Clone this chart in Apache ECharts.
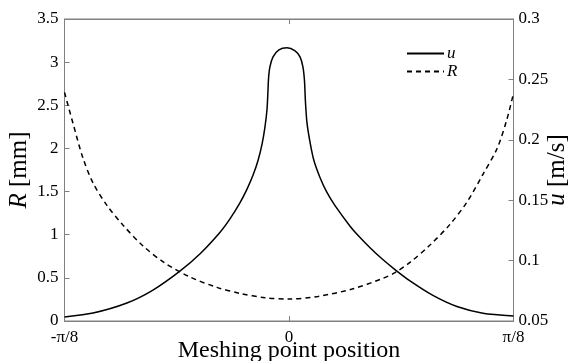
<!DOCTYPE html>
<html>
<head>
<meta charset="utf-8">
<script src="https://cdn.jsdelivr.net/npm/echarts@6/dist/echarts.min.js"></script>
<style>
  html, body { margin: 0; padding: 0; background: #fff; }
  #chart { width: 568px; height: 361px; }
</style>
</head>
<body>
<div id="chart"></div>
<script>
  // x in units of pi/8 (-1 = -π/8, 1 = π/8)
  var xTickLabels = ['-π/8', '0', 'π/8']

  // R [mm], dashed, left axis
  var rX = [-1, -0.962, -0.918, -0.873, -0.811, -0.739, -0.65, -0.552, -0.441, -0.321, -0.218, -0.107, 0,
    0.129, 0.281, 0.414, 0.472, 0.539, 0.628, 0.717, 0.793, 0.864, 0.927, 0.971, 1]
  var rValues = [2.65, 2.29, 1.89, 1.6, 1.34, 1.11, 0.87, 0.67, 0.51, 0.39, 0.32, 0.27, 0.254,
    0.285, 0.37, 0.49, 0.56, 0.68, 0.88, 1.12, 1.38, 1.7, 2.0, 2.34, 2.64]

  // u [m/s], solid, right axis
  var uX = [-1, -0.873, -0.722, -0.606, -0.486, -0.396, -0.307, -0.263, -0.218, -0.187, -0.16, -0.138, -0.12,
    -0.107, -0.098, -0.094, -0.091, -0.085, -0.071, -0.045, -0.009, 0.027, 0.049, 0.062, 0.069, 0.073, 0.08,
    0.094, 0.111, 0.138, 0.169, 0.205, 0.272, 0.307, 0.361, 0.414, 0.472, 0.539, 0.641, 0.748, 0.864, 1]
  var uValues = [0.0533, 0.0566, 0.0649, 0.0756, 0.0913, 0.1057, 0.1235, 0.1345, 0.148, 0.1592, 0.1708, 0.1829, 0.1964,
    0.2107, 0.2251, 0.2391, 0.2511, 0.2604, 0.2686, 0.2744, 0.2761, 0.2736, 0.2686, 0.2604, 0.2488, 0.2323, 0.2142,
    0.1977, 0.1828, 0.1688, 0.1564, 0.1455, 0.1285, 0.121, 0.1107, 0.1015, 0.0926, 0.0832, 0.0712, 0.062, 0.0565, 0.0541]

  var font = 'Liberation Serif'
  var axisGray = '#808080'

  function pairs(xs, ys) {
    return xs.map(function (x, i) { return [x, ys[i]] })
  }

  var nameStyle = {
    fontFamily: font, fontSize: 25, color: '#000',
    rich: { i: { fontFamily: font, fontSize: 25, fontStyle: 'italic', color: '#000' } }
  }

  var chart = echarts.init(document.getElementById('chart'))
  chart.setOption({
    animation: false,
    textStyle: { fontFamily: font, color: '#000' },
    grid: {
      left: 64.5, right: 54.5, top: 19, bottom: 40,
      outerBoundsMode: 'none',
      show: true, borderColor: axisGray, borderWidth: 1
    },
    legend: {
      orient: 'vertical',
      left: 406, top: 45, padding: 0,
      itemWidth: 37, itemHeight: 10, itemGap: 1,
      data: ['u', 'R'],
      itemStyle: { opacity: 0 },
      textStyle: { fontFamily: font, fontSize: 17, fontStyle: 'italic', color: '#000', padding: [0, 0, 0, -2] }
    },
    xAxis: [
      {
        type: 'value', min: -1, max: 1, interval: 1,
        name: 'Meshing point position', nameLocation: 'middle', nameGap: 18, nameMoveOverlap: false,
        nameTextStyle: { fontFamily: font, fontSize: 24, color: '#000' },
        axisLine: { onZero: false, lineStyle: { color: axisGray } },
        axisTick: { inside: true, length: 5, lineStyle: { color: axisGray } },
        axisLabel: {
          margin: 8, fontSize: 17, color: '#000', fontFamily: font,
          formatter: function (v) { return xTickLabels[Math.round(v) + 1] }
        },
        splitLine: { show: false }
      },
      {
        type: 'value', min: -1, max: 1, interval: 1, position: 'top',
        axisLine: { onZero: false, lineStyle: { color: axisGray } },
        axisTick: { inside: true, length: 5, lineStyle: { color: axisGray } },
        axisLabel: { show: false },
        splitLine: { show: false }
      }
    ],
    yAxis: [
      {
        type: 'value', min: 0, max: 3.5, interval: 0.5,
        name: '{i|R} [mm]', nameLocation: 'middle', nameGap: 33, nameMoveOverlap: false,
        nameTextStyle: nameStyle,
        axisLine: { show: true, onZero: false, lineStyle: { color: axisGray } },
        axisTick: { inside: true, length: 5, lineStyle: { color: axisGray } },
        axisLabel: { margin: 6, fontSize: 17, color: '#000', fontFamily: font },
        splitLine: { show: false }
      },
      {
        type: 'value', min: 0.05, max: 0.3, interval: 0.05, position: 'right',
        name: '{i|u} [m/s]', nameLocation: 'middle', nameGap: 31, nameMoveOverlap: false,
        nameTextStyle: nameStyle,
        axisLine: { show: true, onZero: false, lineStyle: { color: axisGray } },
        axisTick: { inside: true, length: 5, lineStyle: { color: axisGray } },
        axisLabel: {
          margin: 5, fontSize: 17, color: '#000', fontFamily: font,
          formatter: function (v) { return String(+v.toFixed(2)) }
        },
        splitLine: { show: false }
      }
    ],
    series: [
      {
        name: 'u',
        type: 'line',
        yAxisIndex: 1,
        data: pairs(uX, uValues),
        symbol: 'none',
        smooth: 0.25,
        lineStyle: { color: '#000', width: 1.5, type: 'solid' },
        itemStyle: { color: '#000' }
      },
      {
        name: 'R',
        type: 'line',
        yAxisIndex: 0,
        data: pairs(rX, rValues),
        symbol: 'none',
        smooth: 0.3,
        lineStyle: { color: '#000', width: 1.5, type: [5, 4] },
        itemStyle: { color: '#000' }
      }
    ]
  })
</script>
</body>
</html>
